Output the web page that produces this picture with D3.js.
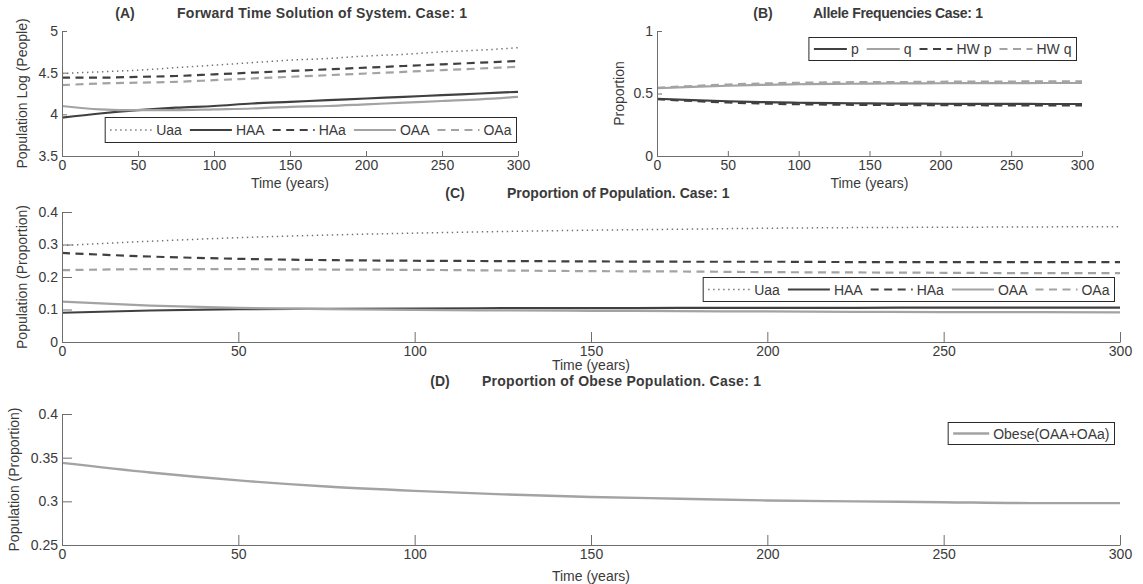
<!DOCTYPE html>
<html>
<head>
<meta charset="utf-8">
<script src="https://cdn.jsdelivr.net/npm/d3@7"></script>
<style>
  html, body { margin: 0; padding: 0; background: #fff; }
  svg { display: block; font-family: "Liberation Sans", Arial, Helvetica, sans-serif; }
</style>
</head>
<body>
<svg id="chart" width="1143" height="584"></svg>
<script>
// ---------------- DATA ----------------
const years = [0, 25, 50, 75, 100, 125, 150, 175, 200, 225, 250, 275, 300];
const xTicks = [0, 50, 100, 150, 200, 250, 300];

// (A) log10 population
const A_Uaa = [4.49, 4.51, 4.53, 4.56, 4.59, 4.62, 4.65, 4.67, 4.70, 4.72, 4.75, 4.77, 4.80];
const A_HAA = [3.96, 4.01, 4.05, 4.08, 4.10, 4.13, 4.15, 4.17, 4.19, 4.21, 4.23, 4.25, 4.27];
const A_HAa = [4.44, 4.44, 4.45, 4.46, 4.48, 4.50, 4.52, 4.54, 4.56, 4.58, 4.60, 4.62, 4.64];
const A_OAA = [4.10, 4.06, 4.05, 4.05, 4.06, 4.07, 4.09, 4.10, 4.12, 4.14, 4.16, 4.18, 4.21];
const A_OAa = [4.35, 4.37, 4.38, 4.39, 4.41, 4.43, 4.45, 4.47, 4.49, 4.51, 4.53, 4.55, 4.57];
const A_yTicks = [3.5, 4, 4.5, 5];

// (B) allele frequencies
const B_p   = [0.458, 0.447, 0.438, 0.431, 0.426, 0.423, 0.421, 0.419, 0.418, 0.417, 0.417, 0.416, 0.416];
const B_q   = [0.542, 0.553, 0.562, 0.569, 0.574, 0.577, 0.579, 0.581, 0.582, 0.583, 0.583, 0.584, 0.584];
const B_HWp = [0.455, 0.440, 0.428, 0.420, 0.414, 0.411, 0.409, 0.408, 0.407, 0.406, 0.405, 0.405, 0.404];
const B_HWq = [0.545, 0.560, 0.572, 0.580, 0.586, 0.589, 0.591, 0.592, 0.594, 0.595, 0.596, 0.597, 0.598];
const B_yTicks = [0, 0.5, 1];

// (C) proportions
const C_Uaa = [0.297, 0.310, 0.321, 0.329, 0.335, 0.340, 0.344, 0.347, 0.350, 0.352, 0.353, 0.354, 0.355];
const C_HAA = [0.090, 0.097, 0.101, 0.102, 0.103, 0.104, 0.104, 0.105, 0.105, 0.105, 0.106, 0.106, 0.106];
const C_HAa = [0.274, 0.263, 0.256, 0.252, 0.250, 0.249, 0.248, 0.247, 0.247, 0.246, 0.246, 0.246, 0.246];
const C_OAA = [0.124, 0.112, 0.105, 0.101, 0.099, 0.097, 0.096, 0.095, 0.094, 0.093, 0.092, 0.092, 0.091];
const C_OAa = [0.221, 0.224, 0.224, 0.223, 0.222, 0.220, 0.218, 0.217, 0.215, 0.214, 0.213, 0.212, 0.212];
const C_yTicks = [0, 0.1, 0.2, 0.3, 0.4];

// (D) obese proportion
const D_Obese = [0.344, 0.333, 0.324, 0.317, 0.312, 0.308, 0.305, 0.303, 0.301, 0.300, 0.299, 0.298, 0.298];
const D_yTicks = [0.25, 0.3, 0.35, 0.4];

// ---------------- STYLE ----------------
const DARK = "#404040", LIGHT = "#a3a3a3", DOT = "#707070";
const AXIS = "#6e6e6e", TEXT = "#3a3a3a";
const styles = {
  Uaa: { color: DOT,   dash: "1.4,3.6", width: 1.5 },
  HAA: { color: DARK,  dash: null,      width: 2.2 },
  HAa: { color: DARK,  dash: "8,5.5",   width: 2.2 },
  OAA: { color: LIGHT, dash: null,      width: 2.2 },
  OAa: { color: LIGHT, dash: "8,5.5",   width: 2.2 },
  p:   { color: DARK,  dash: null,      width: 2.2 },
  q:   { color: LIGHT, dash: null,      width: 2.2 },
  HWp: { color: DARK,  dash: "8,5.5",   width: 2.2 },
  HWq: { color: LIGHT, dash: "8,5.5",   width: 2.2 },
  Obese: { color: LIGHT, dash: null,    width: 2.4 }
};

const svg = d3.select("#chart");

function panel(cfg) {
  const x = d3.scaleLinear().domain([0, 300]).range([cfg.x0, cfg.x1]);
  const y = d3.scaleLinear().domain(cfg.yDomain).range([cfg.y1, cfg.y0]);
  const g = svg.append("g");

  // lines
  const line = d3.line().x((d, i) => x(years[i])).y(d => y(d)).curve(d3.curveMonotoneX);
  cfg.series.forEach(s => {
    const st = styles[s.style];
    g.append("path").attr("d", line(s.values))
      .attr("fill", "none").attr("stroke", st.color)
      .attr("stroke-width", st.width)
      .attr("stroke-dasharray", st.dash)
      .attr("stroke-linecap", "butt");
  });

  // axes
  const xa = g.append("g").attr("transform", `translate(0,${cfg.y1})`)
    .call(d3.axisBottom(x).tickValues(xTicks).tickSizeInner(-cfg.tick).tickSizeOuter(0).tickPadding(4).tickFormat(d3.format("d")));
  const ya = g.append("g").attr("transform", `translate(${cfg.x0},0)`)
    .call(d3.axisLeft(y).tickValues(cfg.yTicks).tickSizeInner(-cfg.tick).tickSizeOuter(0).tickPadding(4).tickFormat(d => String(d)));
  [xa, ya].forEach(a => {
    a.selectAll("path, line").attr("stroke", AXIS).attr("stroke-width", 1);
    a.selectAll("text").attr("fill", TEXT).style("font-size", "14px");
  });

  // axis labels
  g.append("text").attr("x", (cfg.x0 + cfg.x1) / 2).attr("y", cfg.xLabelY)
    .attr("text-anchor", "middle").attr("fill", TEXT).style("font-size", "14px").text(cfg.xLabel);
  g.append("text").attr("transform", `translate(${cfg.yLabelX},${(cfg.y0 + cfg.y1) / 2}) rotate(-90)`)
    .attr("text-anchor", "middle").attr("fill", TEXT).style("font-size", "14px").text(cfg.yLabel);

  // title
  g.append("text").attr("x", cfg.tagX).attr("y", cfg.titleY).attr("text-anchor", "middle")
    .attr("fill", TEXT).style("font-size", "14px").style("font-weight", "bold").text(cfg.tag);
  const tt = g.append("text").attr("x", cfg.titleX).attr("y", cfg.titleY)
    .attr("fill", TEXT).style("font-size", "14px").style("font-weight", "bold").text(cfg.title);
  if (cfg.titleW) tt.attr("textLength", cfg.titleW).attr("lengthAdjust", "spacing");

  // legend
  const L = cfg.legend;
  const lg = g.append("g");
  const box = lg.append("rect").attr("fill", "#fff").attr("stroke", "#2a2a2a").attr("stroke-width", 1);
  let cx = 5;
  cfg.series.forEach(s => {
    const st = styles[s.style];
    lg.append("line").attr("x1", cx).attr("x2", cx + L.sample)
      .attr("y1", L.h / 2).attr("y2", L.h / 2)
      .attr("stroke", st.color).attr("stroke-width", st.width).attr("stroke-dasharray", st.dash);
    cx += L.sample + 4;
    const t = lg.append("text").attr("x", cx).attr("y", L.h / 2).attr("dy", "0.36em")
      .attr("fill", TEXT).style("font-size", "14px").text(s.name);
    cx += t.node().getComputedTextLength() + 8;
  });
  const w = cx - 8 + 5;
  box.attr("x", 0).attr("y", 0).attr("width", w).attr("height", L.h);
  lg.attr("transform", `translate(${L.right - w + 0.5},${L.top + 0.5})`);
}

panel({
  x0: 62, x1: 518, y0: 31, y1: 156, yDomain: [3.5, 5], yTicks: A_yTicks, tick: 5,
  xLabel: "Time (years)", xLabelY: 188, yLabel: "Population Log (People)", yLabelX: 27,
  tag: "(A)", tagX: 125, title: "Forward Time Solution of System. Case: 1", titleX: 177, titleY: 18, titleW: 290,
  series: [
    { name: "Uaa", style: "Uaa", values: A_Uaa },
    { name: "HAA", style: "HAA", values: A_HAA },
    { name: "HAa", style: "HAa", values: A_HAa },
    { name: "OAA", style: "OAA", values: A_OAA },
    { name: "OAa", style: "OAa", values: A_OAa }
  ],
  legend: { right: 516, top: 117, h: 25, sample: 42 }
});

panel({
  x0: 657, x1: 1082, y0: 31, y1: 156, yDomain: [0, 1], yTicks: B_yTicks, tick: 5,
  xLabel: "Time (years)", xLabelY: 188, yLabel: "Proportion", yLabelX: 624,
  tag: "(B)", tagX: 763, title: "Allele Frequencies Case: 1", titleX: 813, titleY: 18, titleW: 170,
  series: [
    { name: "p", style: "p", values: B_p },
    { name: "q", style: "q", values: B_q },
    { name: "HW p", style: "HWp", values: B_HWp },
    { name: "HW q", style: "HWq", values: B_HWq }
  ],
  legend: { right: 1076, top: 37, h: 23, sample: 33 }
});

panel({
  x0: 62, x1: 1120, y0: 212, y1: 342, yDomain: [0, 0.4], yTicks: C_yTicks, tick: 10,
  xLabel: "Time (years)", xLabelY: 370, yLabel: "Population (Proportion)", yLabelX: 27,
  tag: "(C)", tagX: 455, title: "Proportion of Population. Case: 1", titleX: 507, titleY: 198, titleW: 0,
  series: [
    { name: "Uaa", style: "Uaa", values: C_Uaa },
    { name: "HAA", style: "HAA", values: C_HAA },
    { name: "HAa", style: "HAa", values: C_HAa },
    { name: "OAA", style: "OAA", values: C_OAA },
    { name: "OAa", style: "OAa", values: C_OAa }
  ],
  legend: { right: 1114, top: 277, h: 24, sample: 42 }
});

panel({
  x0: 62, x1: 1120, y0: 414, y1: 545, yDomain: [0.25, 0.4], yTicks: D_yTicks, tick: 10,
  xLabel: "Time (years)", xLabelY: 581, yLabel: "Population (Proportion)", yLabelX: 19,
  tag: "(D)", tagX: 440, title: "Proportion of Obese Population. Case: 1", titleX: 482, titleY: 386, titleW: 279,
  series: [
    { name: "Obese(OAA+OAa)", style: "Obese", values: D_Obese }
  ],
  legend: { right: 1114, top: 422, h: 22, sample: 36 }
});
</script>
</body>
</html>
